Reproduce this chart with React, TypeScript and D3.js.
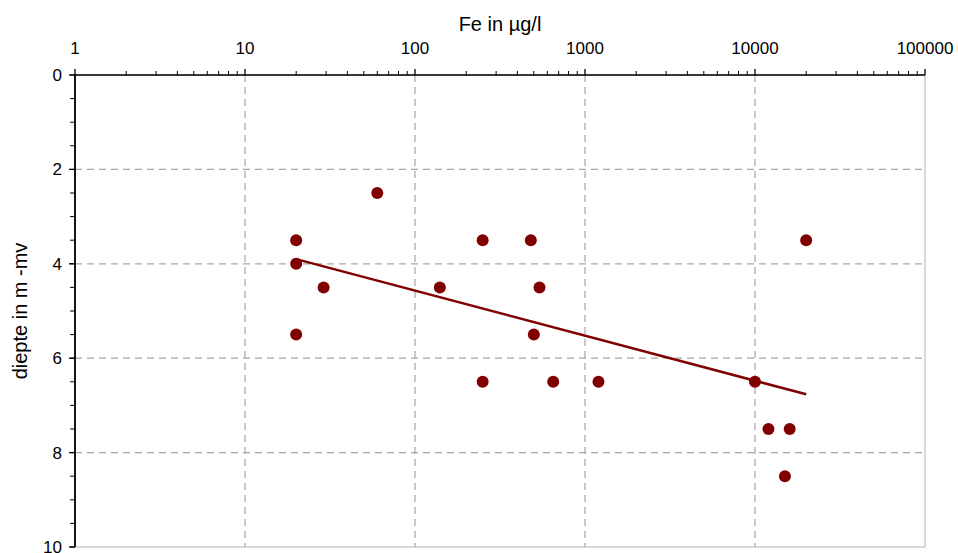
import * as d3 from 'd3'
import React, { useEffect, useRef } from 'react'

// Fe concentration (µg/l) against sample depth (m -mv)
const feValues = [20, 20, 20, 29, 60, 140, 250, 250, 480, 540, 500, 650, 1200, 10000, 12000, 16000, 15000, 20000]
const depthValues = [3.5, 4.0, 5.5, 4.5, 2.5, 4.5, 3.5, 6.5, 3.5, 4.5, 5.5, 6.5, 6.5, 6.5, 7.5, 7.5, 8.5, 3.5]
const xDecades = [1, 10, 100, 1000, 10000, 100000]
const yMajor = [0, 2, 4, 6, 8, 10]
const yMinor = d3.range(0, 10.01, 0.5)

const xTitle = 'Fe in µg/l'
const yTitle = 'diepte in m -mv'

const W = 958
const H = 553
const margin = { top: 75, right: 33, bottom: 6, left: 75 }
const red = '#800000'
const gridColor = '#a6a6a6'
const font = 'Arial, "Liberation Sans", sans-serif'

export default function App () {
  const ref = useRef<SVGSVGElement | null>(null)

  useEffect(() => {
    const svg = d3.select(ref.current)
    svg.selectAll('*').remove()

    const x = d3.scaleLog().domain([1, 100000]).range([margin.left, W - margin.right])
    const y = d3.scaleLinear().domain([0, 10]).range([margin.top, H - margin.bottom])

    // plot area frame (light right / bottom edge)
    svg.append('rect')
      .attr('x', x(1)).attr('y', y(0))
      .attr('width', x(100000) - x(1)).attr('height', y(10) - y(0))
      .attr('fill', 'white').attr('stroke', '#bfbfbf').attr('stroke-width', 1.2)

    // gridlines
    const grid = svg.append('g').attr('stroke', gridColor).attr('stroke-width', 1.2).attr('stroke-dasharray', '7,5')
    grid.selectAll('line.gx').data(xDecades.slice(1, -1)).enter().append('line')
      .attr('x1', d => x(d)).attr('x2', d => x(d))
      .attr('y1', y(0)).attr('y2', y(10))
    grid.selectAll('line.gy').data(yMajor.slice(1, -1)).enter().append('line')
      .attr('x1', x(1)).attr('x2', x(100000))
      .attr('y1', d => y(d)).attr('y2', d => y(d))

    // top x axis
    const xAxis = svg.append('g').attr('stroke', '#000')
    const minorX = x.ticks().filter(t => !xDecades.includes(t))
    xAxis.selectAll('line.minor').data(minorX).enter().append('line')
      .attr('x1', d => x(d)).attr('x2', d => x(d))
      .attr('y1', y(0) - 4).attr('y2', y(0)).attr('stroke-width', 1)
    xAxis.selectAll('line.major').data(xDecades).enter().append('line')
      .attr('x1', d => x(d)).attr('x2', d => x(d))
      .attr('y1', y(0) - 6).attr('y2', y(0)).attr('stroke-width', 1.3)
    xAxis.append('line')
      .attr('x1', x(1)).attr('x2', x(100000)).attr('y1', y(0)).attr('y2', y(0)).attr('stroke-width', 1.5)
    svg.selectAll('text.xt').data(xDecades).enter().append('text')
      .attr('x', d => x(d)).attr('y', 54)
      .attr('text-anchor', 'middle').attr('font-family', font).attr('font-size', 17)
      .text(d => d3.format('d')(d))

    // left y axis
    const yAxis = svg.append('g').attr('stroke', '#000')
    yAxis.selectAll('line.minor').data(yMinor).enter().append('line')
      .attr('x1', x(1) - 5).attr('x2', x(1))
      .attr('y1', d => y(d)).attr('y2', d => y(d)).attr('stroke-width', 1)
    yAxis.selectAll('line.major').data(yMajor).enter().append('line')
      .attr('x1', x(1) - 6).attr('x2', x(1))
      .attr('y1', d => y(d)).attr('y2', d => y(d)).attr('stroke-width', 1.3)
    yAxis.append('line')
      .attr('x1', x(1)).attr('x2', x(1)).attr('y1', y(0)).attr('y2', y(10)).attr('stroke-width', 1.8)
    svg.selectAll('text.yt').data(yMajor).enter().append('text')
      .attr('x', 62).attr('y', d => y(d) + 6)
      .attr('text-anchor', 'end').attr('font-family', font).attr('font-size', 17)
      .text(d => d)

    // axis titles
    svg.append('text')
      .attr('x', (x(1) + x(100000)) / 2).attr('y', 31)
      .attr('text-anchor', 'middle').attr('font-family', font).attr('font-size', 20)
      .text(xTitle)
    svg.append('text')
      .attr('transform', `translate(27,${(y(0) + y(10)) / 2}) rotate(-90)`)
      .attr('text-anchor', 'middle').attr('font-family', font).attr('font-size', 20)
      .text(yTitle)

    // logarithmic trend line (least squares on log10 of Fe)
    const lx = feValues.map(v => Math.log10(v))
    const mx = d3.mean(lx) as number
    const my = d3.mean(depthValues) as number
    const sxy = d3.sum(lx, (v, i) => (v - mx) * (depthValues[i] - my))
    const sxx = d3.sum(lx, v => (v - mx) * (v - mx))
    const slope = sxy / sxx
    const icpt = my - slope * mx
    const ends = d3.extent(feValues) as [number, number]
    const line = d3.line<number>().x(d => x(d)).y(d => y(icpt + slope * Math.log10(d)))
    svg.append('path')
      .attr('d', line(ends))
      .attr('fill', 'none').attr('stroke', red).attr('stroke-width', 2.5)

    // points
    svg.selectAll('circle').data(feValues).enter().append('circle')
      .attr('cx', d => x(d)).attr('cy', (d, i) => y(depthValues[i]))
      .attr('r', 6).attr('fill', red)
  }, [])

  return (
    <svg
      ref={ref}
      width={W}
      height={H}
      style={{ position: 'absolute', left: 0, top: 0, background: 'white' }}
    />
  )
}
